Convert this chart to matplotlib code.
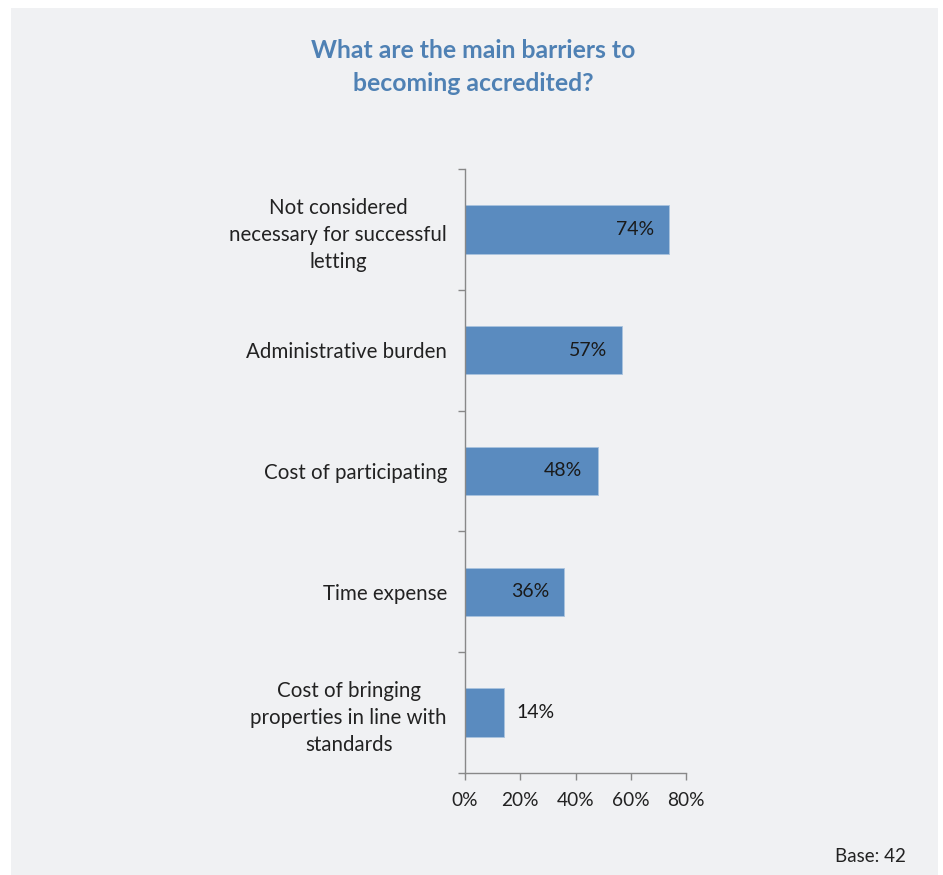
import matplotlib.pyplot as plt
from matplotlib.patches import Rectangle

categories = [
    "Not considered\nnecessary for successful\nletting",
    "Administrative burden",
    "Cost of participating",
    "Time expense",
    "Cost of bringing\nproperties in line with\nstandards",
]
values = [74, 57, 48, 36, 14]
x_ticks = [0, 20, 40, 60, 80]
x_tick_labels = ["0%", "20%", "40%", "60%", "80%"]

plt.rcParams['font.family'] = ['Lato', 'DejaVu Sans']

W, H = 943, 875
fig = plt.figure(figsize=(W / 100, H / 100), dpi=100)
fig.patch.set_facecolor('white')

# grey panel behind everything
fig.patches.append(Rectangle((11 / W, 0), (938 - 11) / W, 1 - 8 / H,
                             transform=fig.transFigure, facecolor='#f0f1f3',
                             edgecolor='none', zorder=-1))

# axes box in pixels: x 465..686, y 169..773
ax = fig.add_axes([465 / W, 1 - 773 / H, (686 - 465) / W, (773 - 169) / H])
ax.set_facecolor('none')

n = len(categories)
pos = list(range(n))[::-1]
bar_color = '#5a8bbf'
ax.barh(pos, values, height=0.4, color=bar_color, edgecolor='#a9c3de', linewidth=0.6)

ax.set_xlim(0, 80)
ax.set_ylim(-0.5, n - 0.5)

for p, v in zip(pos, values):
    if v > 25:
        ax.text(v - 5.5, p, f"{v}%", ha='right', va='center', fontsize=14, color='#1a1a1a')
    else:
        ax.text(v + 4.5, p, f"{v}%", ha='left', va='center', fontsize=14, color='#1a1a1a')

ax.set_xticks(x_ticks)
ax.set_xticklabels(x_tick_labels, fontsize=13.8, color='#222222')

# y ticks at category boundaries, labels at centres
ax.set_yticks([b - 0.5 for b in range(n + 1)])
ax.set_yticklabels([])
ax.set_yticks(pos, minor=True)
ax.set_yticklabels(categories, minor=True, fontsize=14.8, color='#222222',
                   multialignment='center', linespacing=1.43)
ax.tick_params(axis='y', which='minor', length=0, pad=13)
ax.tick_params(axis='y', which='major', length=5, color='#888888', width=1)
ax.tick_params(axis='x', length=5, color='#888888', width=1, pad=9)

for s in ['top', 'right']:
    ax.spines[s].set_visible(False)
for s in ['left', 'bottom']:
    ax.spines[s].set_color('#888888')
    ax.spines[s].set_linewidth(1)

fig.text(473 / W, 1 - 67 / H, "What are the main barriers to\nbecoming accredited?",
         ha='center', va='center', fontsize=17.8, fontweight='bold', color='#4f81b4',
         linespacing=1.55)

fig.text(906 / W, 1 - 857 / H, "Base: 42", ha='right', va='center', fontsize=13.5, color='#222222')

fig.savefig('out.png', dpi=100, facecolor=fig.get_facecolor())
